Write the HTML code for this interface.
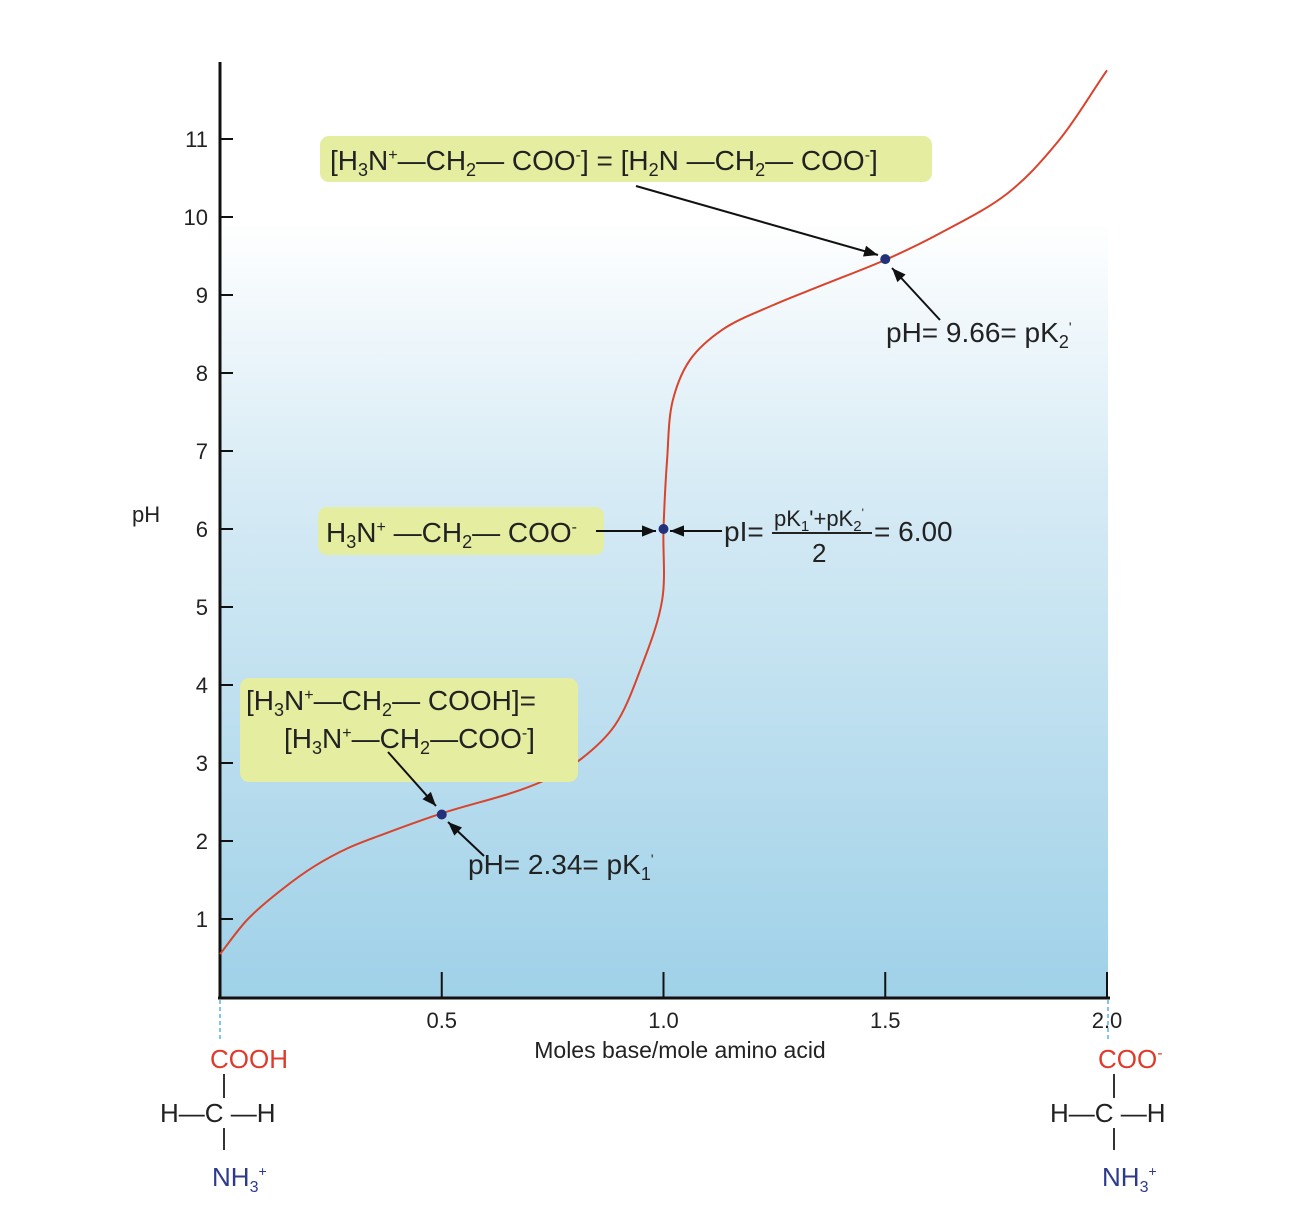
<!DOCTYPE html>
<html><head><meta charset="utf-8"><style>
body{margin:0;background:#fff}
svg{display:block}
text{font-family:"Liberation Sans Narrow","Liberation Sans",sans-serif;fill:#222}
</style></head><body>
<svg width="1292" height="1210" viewBox="0 0 1292 1210">
<defs>
<linearGradient id="bg" x1="0" y1="0" x2="0" y2="1">
<stop offset="0" stop-color="#ffffff"/><stop offset="0.17" stop-color="#ffffff"/>
<stop offset="0.45" stop-color="#d7ebf5"/><stop offset="1" stop-color="#9fd1e8"/>
</linearGradient>
<marker id="ahb" viewBox="0 0 10 10" refX="10" refY="5" markerWidth="22" markerHeight="14" orient="auto" markerUnits="userSpaceOnUse"><path d="M0,1 L10,5 L0,9 z" fill="#111"/></marker>
</defs>
<rect x="220" y="62" width="888" height="936" fill="url(#bg)"/>
<g id="axes"></g>
<path id="curve" fill="none" stroke="#d9432c" stroke-width="2"/>
<g id="pts"></g>
<g id="ann">
<rect x="320" y="136" width="612" height="46" rx="9" fill="#e4eda0"/>
<text x="330" y="170" font-size="28">[H<tspan font-size="18" dy="6">3</tspan><tspan dy="-6">N</tspan><tspan font-size="16" dy="-10">+</tspan><tspan dy="10">—CH</tspan><tspan font-size="18" dy="6">2</tspan><tspan dy="-6">— COO</tspan><tspan font-size="16" dy="-10">-</tspan><tspan dy="10">] = [H</tspan><tspan font-size="18" dy="6">2</tspan><tspan dy="-6">N —CH</tspan><tspan font-size="18" dy="6">2</tspan><tspan dy="-6">— COO</tspan><tspan font-size="16" dy="-10">-</tspan><tspan dy="10">]</tspan></text>
<line x1="636" y1="186" x2="878" y2="255" stroke="#111" stroke-width="2" marker-end="url(#ahb)"/>
<line x1="940" y1="320" x2="892" y2="268" stroke="#111" stroke-width="2" marker-end="url(#ahb)"/>
<text x="886" y="342" font-size="28">pH= 9.66= pK<tspan font-size="18" dy="6">2</tspan><tspan font-size="14" dy="-16">'</tspan></text>
<rect x="318" y="507" width="286" height="48" rx="9" fill="#e4eda0"/>
<text x="326" y="542" font-size="28">H<tspan font-size="18" dy="6">3</tspan><tspan dy="-6">N</tspan><tspan font-size="16" dy="-10">+</tspan><tspan dy="10"> —CH</tspan><tspan font-size="18" dy="6">2</tspan><tspan dy="-6">— COO</tspan><tspan font-size="16" dy="-10">-</tspan></text>
<line x1="596" y1="531" x2="656" y2="531" stroke="#111" stroke-width="2" marker-end="url(#ahb)"/>
<line x1="722" y1="531" x2="670" y2="531" stroke="#111" stroke-width="2" marker-end="url(#ahb)"/>
<text x="724" y="541" font-size="28">pI=</text>
<text x="774" y="526" font-size="22">pK<tspan font-size="15" dy="5">1</tspan><tspan dy="-5">'+pK</tspan><tspan font-size="15" dy="5">2</tspan><tspan font-size="12" dy="-14">'</tspan></text>
<line x1="772" y1="533" x2="872" y2="533" stroke="#222" stroke-width="2"/>
<text x="812" y="562" font-size="26">2</text>
<text x="874" y="541" font-size="28">= 6.00</text>
<rect x="240" y="678" width="338" height="104" rx="9" fill="#e4eda0"/>
<text x="246" y="710" font-size="28">[H<tspan font-size="18" dy="6">3</tspan><tspan dy="-6">N</tspan><tspan font-size="16" dy="-10">+</tspan><tspan dy="10">—CH</tspan><tspan font-size="18" dy="6">2</tspan><tspan dy="-6">— COOH]=</tspan></text>
<text x="284" y="748" font-size="28">[H<tspan font-size="18" dy="6">3</tspan><tspan dy="-6">N</tspan><tspan font-size="16" dy="-10">+</tspan><tspan dy="10">—CH</tspan><tspan font-size="18" dy="6">2</tspan><tspan dy="-6">—COO</tspan><tspan font-size="16" dy="-10">-</tspan><tspan dy="10">]</tspan></text>
<line x1="388" y1="752" x2="436" y2="806" stroke="#111" stroke-width="2" marker-end="url(#ahb)"/>
<line x1="484" y1="856" x2="448" y2="822" stroke="#111" stroke-width="2" marker-end="url(#ahb)"/>
<text x="468" y="874" font-size="28">pH= 2.34= pK<tspan font-size="18" dy="6">1</tspan><tspan font-size="14" dy="-16">'</tspan></text>
<text x="132" y="522" font-size="22">pH</text>
<text x="680" y="1058" font-size="23" text-anchor="middle">Moles base/mole amino acid</text>
<line x1="220" y1="1000" x2="220" y2="1042" stroke="#5ab0e0" stroke-width="1.5" stroke-dasharray="4,3"/>
<line x1="1108" y1="1000" x2="1108" y2="1042" stroke="#5ab0e0" stroke-width="1.5" stroke-dasharray="4,3"/>
<g>
<text x="210" y="1068" font-size="26" style="fill:#e03a2a">COOH</text>
<line x1="224" y1="1074" x2="224" y2="1098" stroke="#333" stroke-width="2"/>
<text x="160" y="1122" font-size="26">H—C —H</text>
<line x1="224" y1="1128" x2="224" y2="1150" stroke="#333" stroke-width="2"/>
<text x="212" y="1186" font-size="26" style="fill:#2d3a8c">NH<tspan font-size="16" dy="6">3</tspan><tspan font-size="14" dy="-16">+</tspan></text>
</g>
<g>
<text x="1098" y="1068" font-size="26" style="fill:#e03a2a">COO<tspan font-size="16" dy="-10">-</tspan></text>
<line x1="1114" y1="1074" x2="1114" y2="1098" stroke="#333" stroke-width="2"/>
<text x="1050" y="1122" font-size="26">H—C —H</text>
<line x1="1114" y1="1128" x2="1114" y2="1150" stroke="#333" stroke-width="2"/>
<text x="1102" y="1186" font-size="26" style="fill:#2d3a8c">NH<tspan font-size="16" dy="6">3</tspan><tspan font-size="14" dy="-16">+</tspan></text>
</g>
</g>
</svg>
<script>
const xVals=[0,0.063,0.14,0.214,0.289,0.365,0.503,0.665,0.74,0.816,0.89,0.95,0.997,1.0,1.008,1.021,1.06,1.134,1.247,1.36,1.504,1.623,1.775,1.887,2.0];
const pHVals=[0.55,1.0,1.38,1.68,1.91,2.08,2.36,2.63,2.8,3.06,3.48,4.23,5.09,6.0,6.88,7.65,8.17,8.56,8.87,9.13,9.46,9.79,10.3,10.95,11.88];
const keyX=[0.5,1.0,1.5];
const keyPH=[2.34,6.0,9.46];
const yTicks=[1,2,3,4,5,6,7,8,9,10,11];
const xTicks=[0.5,1.0,1.5,2.0];
const xTickLabels=["0.5","1.0","1.5","2.0"];
const NS="http://www.w3.org/2000/svg";
const sx=v=>220+v*443.5, sy=v=>997-v*78;
const ax=document.getElementById('axes');
function mk(t,a,p){const e=document.createElementNS(NS,t);for(const k in a)e.setAttribute(k,a[k]);(p||ax).appendChild(e);return e;}
let e=mk('line',{x1:220,y1:62,x2:220,y2:999,stroke:'#111','stroke-width':3});


e=mk('line',{x1:218,y1:998,x2:1110,y2:998,stroke:'#111','stroke-width':3});


yTicks.forEach(v=>{const y=sy(v);
 mk('line',{x1:220,y1:y,x2:233,y2:y,stroke:'#111','stroke-width':2});
 const t=mk('text',{x:208,y:y+8,'font-size':22,'text-anchor':'end'});t.textContent=v;
 
 });
xTicks.forEach((v,i)=>{const x=sx(v);
 mk('line',{x1:x,y1:972,x2:x,y2:998,stroke:'#111','stroke-width':2});
 const t=mk('text',{x:x,y:1028,'font-size':22,'text-anchor':'middle'});t.textContent=xTickLabels[i];
 
 });
const P=xVals.map((v,i)=>[sx(v),sy(pHVals[i])]);
const n=P.length;
const ext=[[2*P[0][0]-P[1][0],2*P[0][1]-P[1][1]],...P,[2*P[n-1][0]-P[n-2][0],2*P[n-1][1]-P[n-2][1]]];
const dist=(a,b)=>Math.max(1e-6,Math.pow(Math.hypot(a[0]-b[0],a[1]-b[1]),0.5));
let d='M'+P[0][0]+','+P[0][1];
for(let i=1;i<ext.length-2;i++){
 const p0=ext[i-1],p1=ext[i],p2=ext[i+1],p3=ext[i+2];
 const d1=dist(p0,p1),d2=dist(p1,p2),d3=dist(p2,p3);
 const c1=[0,1].map(k=>(d1*d1*p2[k]-d2*d2*p0[k]+(2*d1*d1+3*d1*d2+d2*d2)*p1[k])/(3*d1*(d1+d2)));
 const c2=[0,1].map(k=>(d3*d3*p1[k]-d2*d2*p3[k]+(2*d3*d3+3*d3*d2+d2*d2)*p2[k])/(3*d3*(d3+d2)));
 d+=` C${c1[0]},${c1[1]} ${c2[0]},${c2[1]} ${p2[0]},${p2[1]}`;}
document.getElementById('curve').setAttribute('d',d);
const pg=document.getElementById('pts');
keyX.forEach((v,i)=>{const c=mk('circle',{cx:sx(v),cy:sy(keyPH[i]),r:5,fill:'#23307a'},pg);
 
 });
</script>
</body></html>
